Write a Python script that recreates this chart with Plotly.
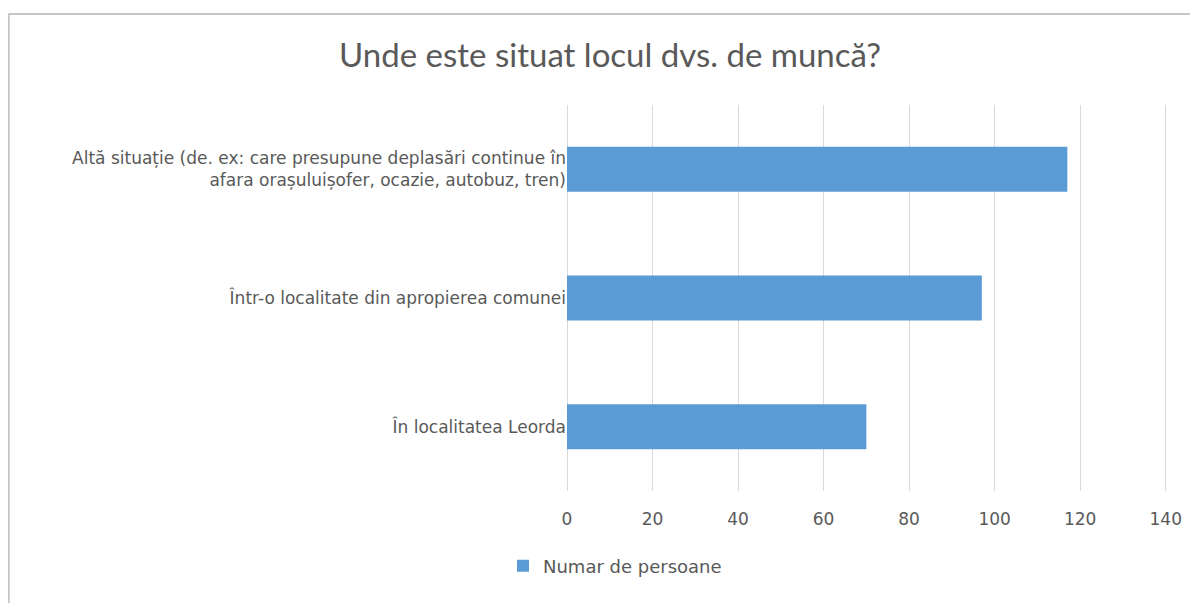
import plotly.graph_objects as go

categories = [
    "Altă situație (de. ex: care presupune deplasări continue în<br>afara orașuluișofer, ocazie, autobuz, tren)",
    "Într-o localitate din apropierea comunei",
    "În localitatea Leorda",
]
values = [117, 97, 70]
series_name = "Numar de persoane"
title_text = "Unde este situat locul dvs. de muncă?"
x_ticks = [0, 20, 40, 60, 80, 100, 120, 140]

OFF = 8  # page body margin
W, H = 1198 - OFF, 603 - OFF
X_MAX = 140.3
plot_left, plot_top, plot_bottom = 567 - OFF, 105 - OFF, 491 - OFF
px_per_unit = (1166 - 567) / 140
plot_w = px_per_unit * X_MAX
L, T = plot_left, plot_top
R = W - (plot_left + plot_w)
B = H - plot_bottom
ph = plot_bottom - plot_top


def px_x(p):  # screen px -> paper x
    return (p - OFF - L) / plot_w


def px_y(p):  # screen px -> paper y
    return (plot_bottom - (p - OFF)) / ph


fig = go.Figure()
fig.add_trace(go.Bar(
    x=values, y=categories, orientation="h", name=series_name,
    marker=dict(color="#5B9BD5", line=dict(width=0)),
    showlegend=True,
))

fig.update_layout(
    width=W, height=H,
    margin=dict(l=L, r=R, t=T, b=B, autoexpand=False),
    paper_bgcolor="white", plot_bgcolor="white",
    bargap=0.65,
    font=dict(family="DejaVu Sans", color="#595959", size=17),
    title=dict(text=title_text, x=(610 - OFF) / W, xref="container", xanchor="center",
               y=1 - (55 - OFF) / H, yref="container", yanchor="middle",
               font=dict(family="Lato", size=33, color="#595959")),
    xaxis=dict(range=[0, X_MAX], tickvals=x_ticks, showgrid=True,
               gridcolor="#D9D9D9", gridwidth=1, zeroline=True,
               zerolinecolor="#D9D9D9", zerolinewidth=1, showline=False,
               ticks="", ticklabelstandoff=16,
               tickfont=dict(size=17, color="#595959"), fixedrange=True),
    yaxis=dict(autorange="reversed", showgrid=False, zeroline=False,
               showline=False, ticks="", ticklabelstandoff=0,
               tickfont=dict(size=17, color="#595959"), fixedrange=True),
    legend=dict(orientation="h", x=px_x(615), xanchor="center",
                y=px_y(566), yanchor="middle", itemwidth=30,
                font=dict(size=18, color="#595959"), bgcolor="rgba(0,0,0,0)"),
)

# chart-area border (top and left visible in the reference)
fig.add_shape(type="line", xref="paper", yref="paper",
              x0=px_x(8), x1=px_x(1210), y0=px_y(14), y1=px_y(14),
              line=dict(color="#C6C6C6", width=2))
fig.add_shape(type="line", xref="paper", yref="paper",
              x0=px_x(8.5), x1=px_x(8.5), y0=px_y(14), y1=px_y(615),
              line=dict(color="#C6C6C6", width=2))

fig.write_html("out.html")
